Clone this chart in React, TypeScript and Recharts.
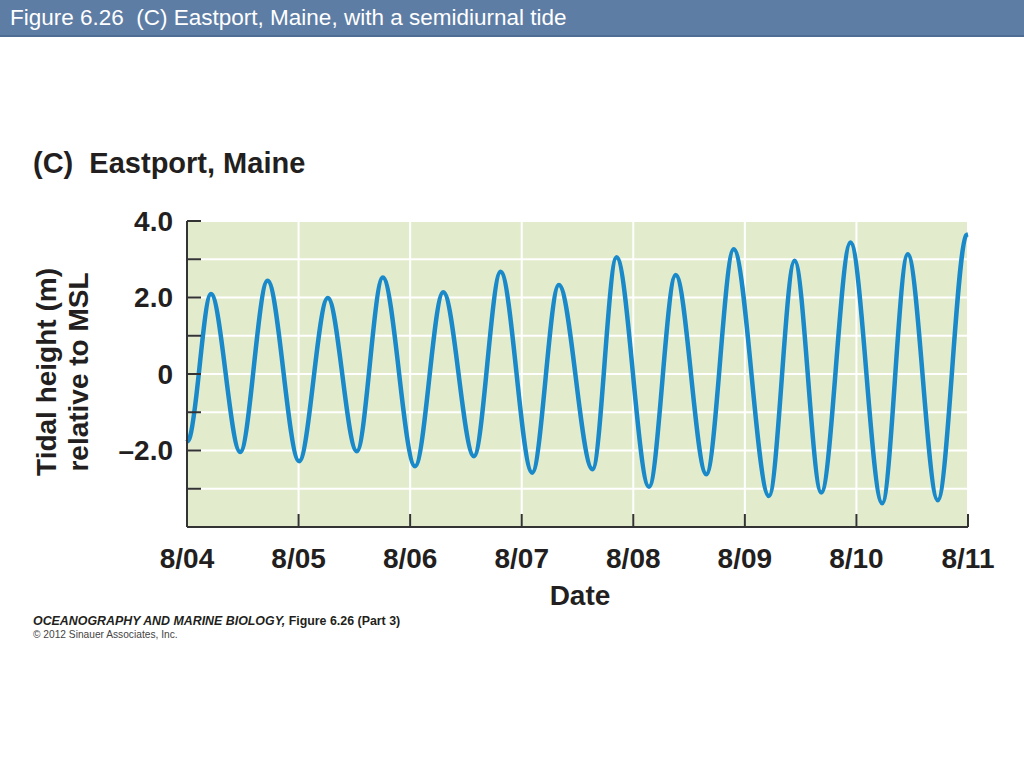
import React from 'react';
import { LineChart, Line, XAxis, YAxis, CartesianGrid } from 'recharts';

// days since 8/04 at each reading (mostly high and low waters)
const dayOffsets = [
  0, 0.02, 0.215, 0.477, 0.722, 1.005, 1.262, 1.522, 1.755, 2.044, 2.297, 2.572, 2.811, 3.094, 3.333,
  3.635, 3.85, 4.141, 4.38, 4.655, 4.9, 5.216, 5.446, 5.685, 5.947, 6.231, 6.46, 6.729, 6.985, 7.0,
];
// tidal height (m) relative to MSL
const heights = [
  -1.78, -1.7, 2.09, -2.04, 2.44, -2.28, 1.99, -2.02, 2.52, -2.41, 2.14, -2.15, 2.67, -2.58, 2.33,
  -2.49, 3.05, -2.95, 2.59, -2.62, 3.26, -3.19, 2.96, -3.1, 3.44, -3.38, 3.13, -3.3, 3.63, 3.65,
];

const dateTicks = [0, 1, 2, 3, 4, 5, 6, 7];
const dateLabels = ['8/04', '8/05', '8/06', '8/07', '8/08', '8/09', '8/10', '8/11'];
const heightTicks = [-4, -3, -2, -1, 0, 1, 2, 3, 4];
const heightLabels: Record<number, string> = { 4: '4.0', 2: '2.0', 0: '0', [-2]: '\u20132.0' };

const data = dayOffsets.map((t, i) => ({ t, h: heights[i] }));

const FONT = '"Liberation Sans", Arial, Helvetica, sans-serif';
const INK = '#231f20';

export default function App() {
  return (
    <div style={{ position: 'absolute', left: 0, top: 0, width: 1024, height: 768, background: '#fff', fontFamily: FONT }}>
      <div
        style={{
          position: 'absolute', left: 0, top: 0, width: 1024, height: 37,
          background: '#5e7da5', borderBottom: '2px solid #4f6d94',
          color: '#fff', fontSize: 22.5, lineHeight: '36px', paddingLeft: 10, boxSizing: 'border-box',
        }}
      >
        Figure 6.26&nbsp;&nbsp;(C) Eastport, Maine, with a semidiurnal tide
      </div>

      <div style={{ position: 'absolute', left: 0, top: 0 }}>
        <LineChart width={1024} height={768} data={data} margin={{ top: 221, right: 56, bottom: 181, left: 107 }}>
          <CartesianGrid stroke="#ffffff" strokeWidth={2} fill="#e2eccc" />
          <XAxis
            dataKey="t"
            type="number"
            domain={[0, 7]}
            ticks={dateTicks}
            interval={0}
            height={60}
            tickFormatter={(v) => dateLabels[v]}
            tickSize={-13}
            tickMargin={34}
            tick={{ fill: INK, fontSize: 28, fontWeight: 'bold', fontFamily: FONT }}
            tickLine={{ stroke: '#333', strokeWidth: 2 }}
            axisLine={{ stroke: '#333', strokeWidth: 2 }}
          />
          <YAxis
            type="number"
            domain={[-4, 4]}
            ticks={heightTicks}
            interval={0}
            width={80}
            tickFormatter={(v) => heightLabels[v] ?? ''}
            tickSize={-14}
            tickMargin={28}
            tick={{ fill: INK, fontSize: 28, fontWeight: 'bold', fontFamily: FONT }}
            tickLine={{ stroke: '#333', strokeWidth: 2 }}
            axisLine={{ stroke: '#333', strokeWidth: 2 }}
          />
          <Line
            type="monotone"
            dataKey="h"
            stroke="#1a89c9"
            strokeWidth={4.5}
            dot={false}
            isAnimationActive={false}
          />
        </LineChart>
      </div>

      <svg width={1024} height={768} style={{ position: 'absolute', left: 0, top: 0, pointerEvents: 'none' }}>
        <text x={33} y={173} fontFamily={FONT} fontWeight="bold" fontSize={29} fill={INK}>
          (C)&#160;&#160;Eastport, Maine
        </text>
        <g transform="translate(0,372) rotate(-90)" fontFamily={FONT} fontWeight="bold" fontSize={28} fill={INK} textAnchor="middle">
          <text x={0} y={56}>Tidal height (m)</text>
          <text x={0} y={88}>relative to MSL</text>
        </g>
        <text x={580} y={605} fontFamily={FONT} fontWeight="bold" fontSize={28} fill={INK} textAnchor="middle">
          Date
        </text>
        <text x={33} y={625} fontFamily={FONT} fontWeight="bold" fontSize={12.4} fill={INK}>
          <tspan fontStyle="italic">OCEANOGRAPHY AND MARINE BIOLOGY,</tspan> Figure 6.26 (Part 3)
        </text>
        <text x={33} y={638} fontFamily={FONT} fontSize={10.2} fill="#444">
          © 2012 Sinauer Associates, Inc.
        </text>
      </svg>
    </div>
  );
}
